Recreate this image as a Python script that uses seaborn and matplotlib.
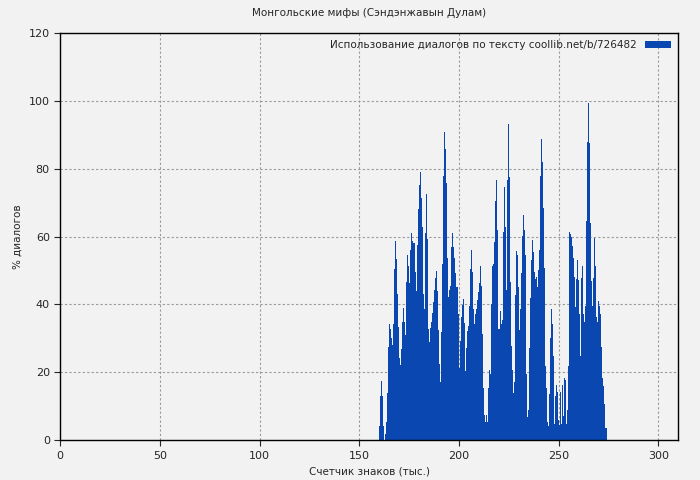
import numpy as np
import pandas as pd
import matplotlib
matplotlib.use("Agg")
import matplotlib.pyplot as plt
import seaborn as sns

title = "Монгольские мифы (Сэндэнжавын Дулам)"
legend_label = "Использование диалогов по тексту coollib.net/b/726482"
xlabel = "Счетчик знаков (тыс.)"
ylabel = "% диалогов"
start_k = 160.0
step_k = 0.5
values = [
 4.1,13.0,17.4,13.0,4.1,0,1.8,5.3,13.9,27.4,34.2,32.8,30.1,28.0,34.2,50.4,58.7,53.4,43.1,33.3,
 24.2,22.1,26.8,34.8,39.0,34.8,31.0,46.6,54.6,51.3,46.3,56.1,61.1,58.7,58.1,58.1,49.6,43.9,57.5,68.1,
 75.2,79.1,71.4,62.8,43.1,38.6,61.1,72.6,59.3,32.8,28.9,33.0,34.8,37.5,40.7,44.3,47.8,49.9,43.9,32.5,
 22.4,17.1,31.9,51.9,77.9,90.9,85.8,75.8,53.7,42.2,44.3,45.4,49.0,56.9,61.1,56.9,53.7,49.3,45.1,45.1,
 37.2,21.2,29.2,36.3,39.8,41.6,34.5,20.4,27.1,32.2,33.6,39.5,50.4,56.1,49.6,38.6,34.2,37.2,38.6,41.3,
 43.7,46.3,51.3,45.4,31.3,15.3,7.4,5.3,7.4,5.3,15.3,20.7,
 19.4,40.1,51.3,51.9,58.4,70.5,76.7,61.9,32.7,32.7,38.0,34.2,35.4,61.3,74.6,62.8,44.2,76.7,93.2,77.5,
 46.6,27.7,20.6,13.8,17.1,42.7,55.7,54.5,45.1,32.4,38.6,49.2,60.1,66.3,61.9,54.5,19.4,6.7,8.8,27.1,
 41.8,53.1,59.0,55.4,49.5,47.4,48.0,45.1,50.1,56.0,77.8,88.7,82.0,68.4,50.7,21.8,15.3,5.3,4.1,13.5,
 30.0,38.6,34.2,24.7,4.9,12.9,16.2,14.1,5.9,4.4,14.1,4.9,16.2,7.0,18.2,17.7,4.7,8.8,21.8,61.3,
 60.7,59.8,57.2,53.6,48.0,39.2,47.4,53.1,47.2,37.1,24.7,47.7,51.3,37.1,34.8,39.5,64.6,87.9,99.4,87.6,
 64.0,46.9,39.5,47.7,59.5,51.3,36.2,34.8,41.0,39.5,37.1,27.4,18.2,15.9,10.6,3.5,3.5,
]
positions = start_k + step_k * np.arange(len(values))
df = pd.DataFrame({"pos": positions, "val": values})

bg = "#f2f2f2"
sns.set_style("white")
plt.rcParams["font.family"] = ["DejaVu Sans"]
fig = plt.figure(figsize=(7, 4.8), dpi=100, facecolor=bg)
ax = fig.add_axes([0.086, 0.083, 0.883, 0.848], facecolor=bg)
sns.histplot(data=df, x="pos", weights="val", binwidth=step_k,
             binrange=(start_k - step_k / 2, positions[-1] + step_k / 2),
             ax=ax, color="#0a47b0", alpha=1, linewidth=0, element="bars",
             label=legend_label)
ax.set_xlim(0, 310)
ax.set_ylim(0, 120)
ax.set_xticks([0, 50, 100, 150, 200, 250, 300])
ax.set_yticks(range(0, 121, 20))
ax.grid(True, color="#999999", linestyle=(0, (2, 2)), linewidth=0.8)
ax.set_axisbelow(True)
for s in ax.spines.values():
    s.set_color("black"); s.set_linewidth(1)
ax.tick_params(labelsize=8, length=4, direction="out", left=True, bottom=True)
ax.set_xlabel(xlabel, fontsize=7.5)
ax.set_ylabel(ylabel, fontsize=7.5)
ax.set_title(title, fontsize=7.5, pad=12)
leg = ax.legend(loc="upper right", frameon=False, fontsize=7.5, handlelength=2.5,
                borderaxespad=0.3, markerfirst=False)
fig.savefig("out.png", dpi=100, facecolor=bg)
